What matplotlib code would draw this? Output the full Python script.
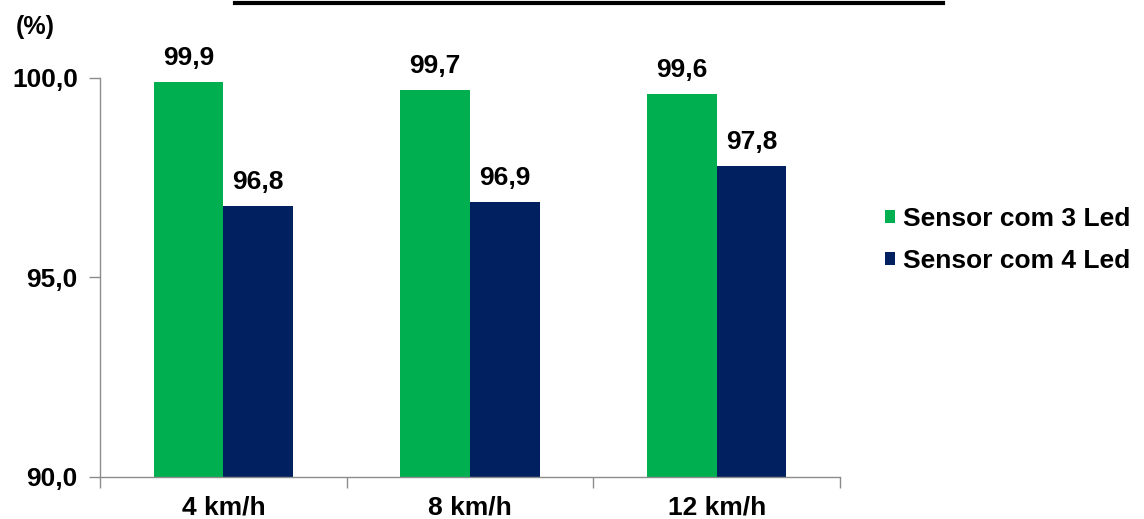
import matplotlib
matplotlib.use("Agg")
import matplotlib.pyplot as plt
import numpy as np
from matplotlib.patches import Patch
from matplotlib.lines import Line2D

plt.rcParams['font.family'] = ['Liberation Sans', 'DejaVu Sans']
plt.rcParams['font.weight'] = 'bold'

categories = ["4 km/h", "8 km/h", "12 km/h"]
series_names = ["Sensor com 3 Led", "Sensor com 4 Led"]
sensor_3_led = [99.9, 99.7, 99.6]
sensor_4_led = [96.8, 96.9, 97.8]
y_ticks = [90.0, 95.0, 100.0]

colors = ["#00B050", "#002060"]
axis_gray = "#8C8C8C"
fs = 19

fig = plt.figure(figsize=(11.44, 5.19), dpi=100)
ax = fig.add_axes([100 / 1144, 42 / 519, 740 / 1144, 399 / 519])

x = np.arange(len(categories))
width = 0.283
for offset, vals, color in [(-width / 2, sensor_3_led, colors[0]),
                            (width / 2, sensor_4_led, colors[1])]:
    ax.bar(x + offset, [v - 90 for v in vals], width, bottom=90,
           color=color, linewidth=0)
    for xi, v in zip(x + offset, vals):
        ax.text(xi, v + 0.3, f"{v:.1f}".replace(".", ","), ha="center",
                va="bottom", fontsize=fs, fontweight="bold")

ax.set_xlim(-0.5, len(categories) - 0.5)
ax.set_ylim(90, 100)
ax.set_yticks(y_ticks)
ax.set_yticklabels([f"{t:.1f}".replace(".", ",") for t in y_ticks],
                   fontsize=fs, fontweight="bold")
ax.set_xticks(x)
ax.set_xticklabels(categories, fontsize=fs, fontweight="bold")
ax.set_xticks(np.arange(len(categories) + 1) - 0.5, minor=True)
ax.tick_params(axis="x", which="major", length=0, pad=13)
ax.tick_params(axis="x", which="minor", length=8, color=axis_gray, width=1)
ax.tick_params(axis="y", length=8, color=axis_gray, width=1, pad=8)

for side in ["top", "right"]:
    ax.spines[side].set_visible(False)
for side in ["left", "bottom"]:
    ax.spines[side].set_color(axis_gray)
    ax.spines[side].set_linewidth(1)

fig.text(35 / 1144, 1 - 27 / 519, "(%)", ha="center", va="center",
         fontsize=18, fontweight="bold")

# underline of the title across the top edge
fig.add_artist(Line2D([235 / 1144, 943 / 1144], [1 - 3 / 519, 1 - 3 / 519],
                      color="black", linewidth=3, transform=fig.transFigure))

handles = [Patch(facecolor=c, edgecolor="none") for c in colors]
fig.legend(handles, series_names, loc="center left",
           bbox_to_anchor=(861 / 1144, 1 - 240 / 519), frameon=False,
           handlelength=0.38, handleheight=0.38, handletextpad=0.3,
           labelspacing=0.65, prop={"size": fs, "weight": "bold"})

fig.savefig("out.png", dpi=100)
